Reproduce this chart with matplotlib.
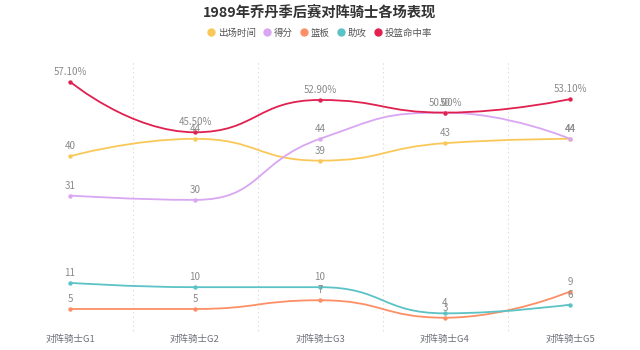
import numpy as np
import matplotlib.pyplot as plt
from matplotlib.path import Path
from matplotlib.patches import PathPatch

plt.rcParams['font.family'] = ['Noto Sans CJK SC', 'DejaVu Sans']

games = ['对阵骑士G1', '对阵骑士G2', '对阵骑士G3', '对阵骑士G4', '对阵骑士G5']
minutes = [40, 44, 39, 43, 44]
points = [31, 30, 44, 50, 44]
rebounds = [5, 5, 7, 3, 9]
assists = [11, 10, 10, 4, 6]
fg_pct = [57.1, 45.5, 52.9, 50.0, 53.1]

series = [
    ('出场时间', minutes, '#fac858', False),
    ('得分', points, '#d9a6f2', False),
    ('篮板', rebounds, '#fc8f65', False),
    ('助攻', assists, '#5bc2c6', False),
    ('投篮命中率', fg_pct, '#e0204f', True),
]

XS, YS = 125.0, 4.36  # px per data unit, for segment lengths


def smooth_path(xs, ys, smooth=0.5):
    # bezier smoothing like echarts, control points clamped to segment box
    px = [a * XS for a in xs]
    py = [b * YS for b in ys]
    n = len(px)
    verts = [(px[0], py[0])]
    codes = [Path.MOVETO]
    cpx0, cpy0 = px[0], py[0]
    prevX, prevY = px[0], py[0]
    for k in range(1, n):
        x, y = px[k], py[k]
        if k == n - 1:
            cpx1, cpy1 = x, y
            ncx, ncy = x, y
        else:
            nextX, nextY = px[k+1], py[k+1]
            vx, vy = nextX - prevX, nextY - prevY
            lp = np.hypot(x - prevX, y - prevY)
            ln = np.hypot(nextX - x, nextY - y)
            r = ln / (ln + lp)
            ncx = x + vx * smooth * r
            ncy = y + vy * smooth * r
            ncx = max(min(ncx, max(nextX, x)), min(nextX, x))
            ncy = max(min(ncy, max(nextY, y)), min(nextY, y))
            vx, vy = ncx - x, ncy - y
            cpx1 = x - vx * lp / ln
            cpy1 = y - vy * lp / ln
            cpx1 = max(min(cpx1, max(prevX, x)), min(prevX, x))
            cpy1 = max(min(cpy1, max(prevY, y)), min(prevY, y))
            vx, vy = x - cpx1, y - cpy1
            ncx = x + vx * ln / lp
            ncy = y + vy * ln / lp
        verts += [(cpx0, cpy0), (cpx1, cpy1), (x, y)]
        codes += [Path.CURVE4] * 3
        cpx0, cpy0 = ncx, ncy
        prevX, prevY = x, y
    verts = [(a / XS, b / YS) for a, b in verts]
    return Path(verts, codes)


fig = plt.figure(figsize=(6.4, 3.5), dpi=100)
ax = fig.add_axes([7.5 / 640, 19.2 / 350, 625 / 640, 261.8 / 350])
ax.set_xlim(-0.5, 4.5)
ax.set_ylim(0, 60)

x = np.arange(len(games))
for xv in [0.5, 1.5, 2.5, 3.5]:
    ax.plot([xv, xv], [0, 62], color='#e0e0e0', lw=0.8, ls=(0, (1.5, 2.5)), zorder=0, clip_on=False)

for name, vals, col, pct in series:
    ax.add_patch(PathPatch(smooth_path(x, vals), fc='none', ec=col, lw=1.3, zorder=2))
    ax.scatter(x, vals, s=10, color=col, zorder=3, linewidths=0)
    for xi, v in zip(x, vals):
        lab = f'{v:.2f}%' if pct else f'{v}'
        ax.annotate(lab, (xi, v), xytext=(0, 3.5), textcoords='offset points',
                    ha='center', va='bottom', fontsize=7, color='#8a8a8a', zorder=4)

ax.set_xticks(x)
ax.set_xticklabels(games, fontsize=6.8, color='#6e7079')
ax.tick_params(axis='x', length=0, pad=3)
ax.set_yticks([])
for sp in ax.spines.values():
    sp.set_visible(False)

fig.text(0.5, 1 - 13 / 350, '1989年乔丹季后赛对阵骑士各场表现', ha='center', va='center',
         fontsize=10.3, fontweight='bold', color='#333333')

handles = [plt.Line2D([], [], marker='o', ls='none', color=c, markersize=5) for _, _, c, _ in series]
fig.legend(handles, [s[0] for s in series], loc='center', bbox_to_anchor=(0.5, 1 - 33 / 350),
           ncol=5, frameon=False, fontsize=6.8, handlelength=0.8, handletextpad=0.3,
           columnspacing=0.8, labelcolor='#555555')

fig.savefig('out.png', dpi=100, facecolor='white')
